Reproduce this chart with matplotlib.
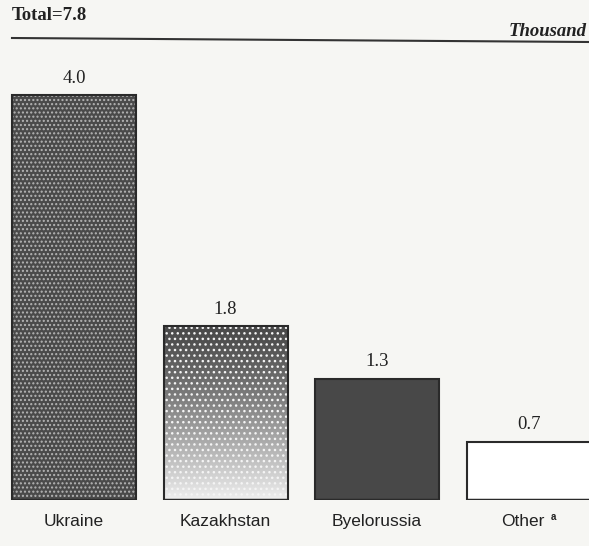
import matplotlib
matplotlib.use("Agg")
import matplotlib.pyplot as plt
import numpy as np

categories = ["Ukraine", "Kazakhstan", "Byelorussia", "Other"]
values = [4.0, 1.8, 1.3, 0.7]
value_labels = ["4.0", "1.8", "1.3", "0.7"]
total_label = "Total=7.8"
unit_label = "Thousand"

W, H = 589, 546
fig = plt.figure(figsize=(W / 100, H / 100), dpi=100)
bg = "#f6f6f3"
fig.patch.set_facecolor(bg)

plt.rcParams["font.family"] = ["Liberation Serif", "DejaVu Serif"]
plt.rcParams["hatch.linewidth"] = 1.0

base_px, top_px = 500, 40
ppu = 105.0
y0 = 15 / ppu
ylim = (y0, y0 + (base_px - top_px) / ppu)
ax = fig.add_axes([0, (H - base_px) / H, 1, (base_px - top_px) / H])
ax.set_facecolor(bg)
step = 151.5
xlim = (-74 / step, (W - 74) / step)
for s in ax.spines.values():
    s.set_visible(False)
ax.set_xticks([])
ax.set_yticks([])

bw = 124 / step
faces = ["#4a4a4a", "none", "#484848", "#ffffff"]
hatches = ["....", "...", None, None]
hcolors = ["#b5b5b5", "#f4f4f4", None, None]
xs = list(range(len(categories)))
label_font = ["Liberation Sans", "DejaVu Sans"]
for i, (x, v) in enumerate(zip(xs, values)):
    bars = ax.bar(x, v, width=bw, color=faces[i], edgecolor="none",
                  linewidth=0, zorder=2)
    if i == 1:
        grad = np.linspace(0, 1, 256).reshape(-1, 1) ** 1.3
        im = ax.imshow(grad, cmap="gray", vmin=-0.45, vmax=1.1, aspect="auto",
                       extent=(x - bw / 2, x + bw / 2, y0, v), origin="upper",
                       zorder=2.5)
        im.set_clip_path(bars[0])
    if hatches[i]:
        ax.bar(x, v, width=bw, color="none", edgecolor=hcolors[i],
               linewidth=0, hatch=hatches[i], zorder=3)
    ax.bar(x, v, width=bw, color="none", edgecolor="#2a2a2a",
           linewidth=1.5, zorder=4)
    ax.hlines(y0, x - bw / 2, x + bw / 2, color="#2a2a2a", lw=2.5, zorder=5)
    ax.text(x, v + 0.08, value_labels[i], ha="center", va="bottom",
            fontsize=13.5, color="#222222")
    lab = categories[i]
    if lab == "Other":
        ax.text(x - 0.04, y0 - 0.13, "Other", ha="center", va="top",
                fontsize=12.5, color="#222222", family=label_font)
        ax.text(x + 0.15, y0 - 0.11, "a", ha="left", va="top", fontsize=7,
                fontweight="bold", color="#222222", family=label_font)
    else:
        ax.text(x, y0 - 0.13, lab, ha="center", va="top", fontsize=12.5,
                color="#222222", family=label_font)

ax.set_xlim(*xlim)
ax.set_ylim(*ylim)

fig.text(12 / W, 1 - 16 / H, total_label, ha="left", va="center",
         fontsize=13.5, fontweight="bold", color="#222222")
fig.text(587 / W, 1 - 31 / H, unit_label, ha="right", va="center",
         fontsize=13.5, fontweight="bold", style="italic", color="#222222")
fig.add_artist(plt.Line2D([12 / W, 1], [1 - 38 / H, 1 - 42 / H],
                          transform=fig.transFigure, color="#333333", lw=1.5))

fig.savefig("out.png", dpi=100, facecolor=bg)
